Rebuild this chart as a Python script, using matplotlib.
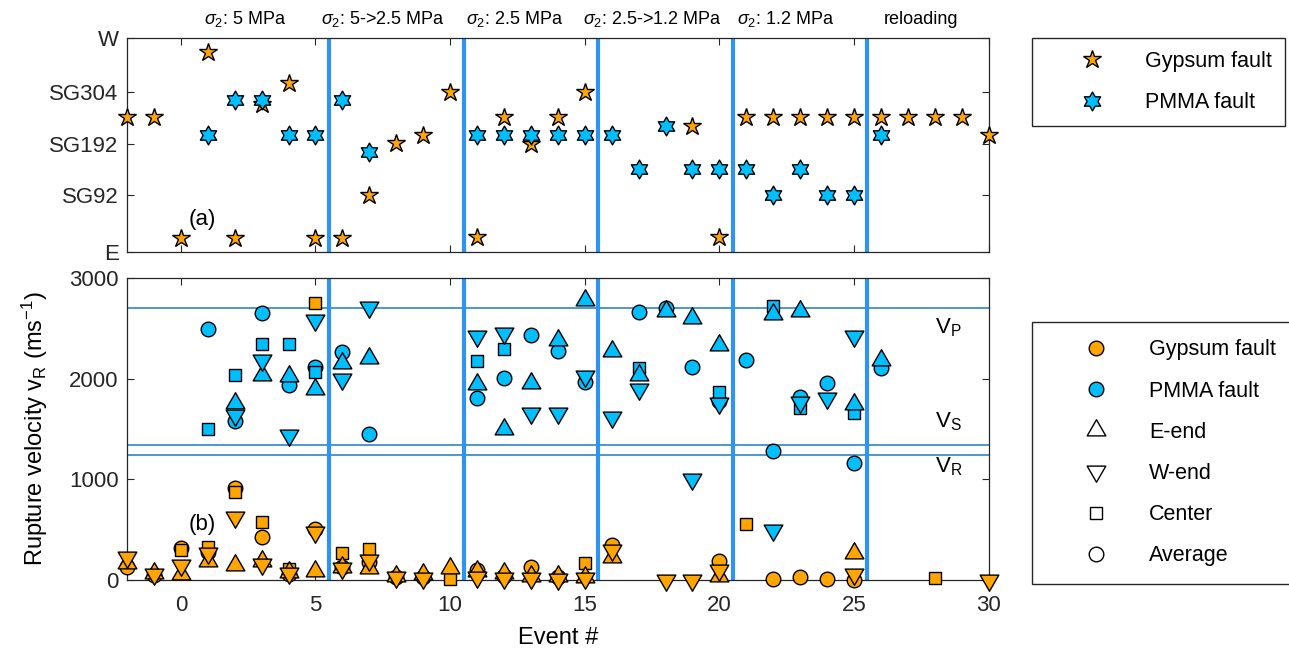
import numpy as np
import matplotlib.pyplot as plt
from matplotlib.path import Path
from matplotlib.lines import Line2D

plt.rcParams['font.family'] = ['Liberation Sans', 'DejaVu Sans']
plt.rcParams['mathtext.fontset'] = 'custom'
plt.rcParams['mathtext.rm'] = 'Liberation Sans'
plt.rcParams['mathtext.it'] = 'Liberation Sans:italic'
plt.rcParams['mathtext.sf'] = 'Liberation Sans'

# ---- (a) nucleation location along the fault (mm from E end) ----
gyp_loc_x = [-2, -1, 0, 1, 2, 3, 4, 5, 6, 7, 8, 9, 10, 11, 12, 13, 14, 15,
             19, 20, 21, 22, 23, 24, 25, 26, 27, 28, 29, 30]
gyp_loc_y = [252, 252, 26, 374, 26, 277, 316, 26, 26, 107, 204, 219, 299, 28,
             252, 202, 252, 299, 236, 28, 252, 252, 252, 252, 252, 252, 252,
             252, 252, 219]
pmma_loc_x = [1, 2, 3, 4, 5, 6, 7, 11, 12, 13, 14, 15, 16, 17, 18, 19, 20,
              21, 22, 23, 24, 25, 26]
pmma_loc_y = [219, 284, 284, 219, 219, 284, 187, 219, 219, 219, 219, 219, 219,
              155, 236, 155, 155, 155, 107, 155, 107, 107, 219]
loc_ticks = [0, 107, 202, 299, 400]
loc_labels = ['E', 'SG92', 'SG192', 'SG304', 'W']

# ---- (b) rupture velocities (m/s) ----
gyp_avg_x = [-2, -1, 0, 1, 2, 3, 4, 5, 6, 7, 8, 9, 11, 12, 13, 14, 16, 20,
             22, 23, 24, 25]
gyp_avg_y = [130, 45, 318, 275, 910, 425, 60, 505, 130, 180, 30, 30, 100, 40,
             130, 30, 350, 185, 7, 26, 7, 0]
gyp_cen_x = [0, 1, 2, 3, 4, 5, 6, 7, 10, 15, 21, 28]
gyp_cen_y = [300, 330, 870, 575, 110, 2750, 265, 310, 10, 172, 556, 17]
gyp_e_x = [-2, -1, 0, 1, 2, 3, 4, 5, 6, 7, 8, 9, 10, 11, 12, 13, 14, 15, 16,
           20, 25]
gyp_e_y = [170, 70, 60, 185, 145, 190, 80, 93, 130, 120, 40, 60, 115, 90, 73,
           40, 40, 33, 225, 40, 270]
gyp_w_x = [-2, -1, 0, 1, 2, 3, 4, 5, 6, 7, 8, 9, 11, 12, 13, 14, 15, 16, 18,
           19, 20, 25, 30]
gyp_w_y = [230, 55, 145, 265, 625, 160, 66, 475, 120, 200, 26, 20, 33, 17, 17,
           7, 17, 295, 0, 0, 100, 60, 0]

pmma_avg_x = [1, 2, 3, 4, 5, 6, 7, 11, 12, 13, 14, 15, 17, 18, 19, 20, 21, 22,
              23, 24, 25, 26]
pmma_avg_y = [2490, 1575, 2650, 1940, 2120, 2265, 1450, 1805, 2010, 2435, 2275,
              1970, 2665, 2700, 2120, 1780, 2190, 1280, 1820, 1955, 1165, 2110]
pmma_cen_x = [1, 2, 3, 4, 5, 11, 12, 17, 20, 22, 23, 25]
pmma_cen_y = [1500, 2035, 2345, 2345, 2070, 2180, 2295, 2110, 1870, 2720, 1705,
              1655]
pmma_e_x = [2, 3, 4, 5, 6, 7, 11, 12, 13, 14, 15, 16, 17, 18, 19, 20, 22, 23,
            25, 26]
pmma_e_y = [1755, 2035, 2025, 1895, 2160, 2210, 1945, 1505, 1955, 2385, 2780,
            2275, 2035, 2670, 2600, 2335, 2640, 2675, 1750, 2185]
pmma_w_x = [2, 3, 4, 5, 6, 7, 11, 12, 13, 14, 15, 16, 17, 19, 20, 22, 23, 24,
            25]
pmma_w_y = [1640, 2185, 1440, 2580, 2000, 2715, 2425, 2450, 1660, 1660, 2025,
            1615, 1895, 1000, 1755, 500, 1770, 1805, 2420]

# wave speeds of PMMA
v_p, v_s, v_r = 2700, 1345, 1245

# normal stress stages
stage_bounds = [5.5, 10.5, 15.5, 20.5, 25.5]
stage_x = [2.4, 7.5, 12.4, 17.5, 22.45, 27.5]
stage_txt = [r'$\sigma_2$: 5 MPa', r'$\sigma_2$: 5->2.5 MPa',
             r'$\sigma_2$: 2.5 MPa', r'$\sigma_2$: 2.5->1.2 MPa',
             r'$\sigma_2$: 1.2 MPa', 'reloading']

ORANGE = '#FFA500'
CYAN = '#00BFFF'
BOUND = '#2F93F2'
WAVE = '#2E86C8'
AX = '#262626'

# marker shapes
hexagram = Path.unit_regular_star(6, innerCircle=1 / np.sqrt(3))
tri_up = Path([(0, 1), (-0.866, -0.5), (0.866, -0.5), (0, 1)],
              [Path.MOVETO, Path.LINETO, Path.LINETO, Path.CLOSEPOLY])
tri_dn = Path([(0, -1), (-0.866, 0.5), (0.866, 0.5), (0, -1)],
              [Path.MOVETO, Path.LINETO, Path.LINETO, Path.CLOSEPOLY])

def style(ax):
    ax.set_xlim(-2, 30)
    ax.set_xticks(range(0, 31, 5))
    ax.tick_params(direction='in', top=True, right=True, length=5,
                   width=0.8, colors=AX, labelsize=16)
    ax.tick_params(axis='x', pad=11)
    ax.tick_params(axis='y', pad=6)
    for s in ax.spines.values():
        s.set_color(AX)
        s.set_linewidth(0.9)
    for b in stage_bounds:
        ax.axvline(b, color=BOUND, lw=3, zorder=1.5)

fig = plt.figure(figsize=(12.89, 6.56), dpi=100)
ax1 = fig.add_axes([0.0985, 0.616, 0.6685, 0.326])
ax2 = fig.add_axes([0.0985, 0.116, 0.6685, 0.460])

# top panel
style(ax1)
ax1.set_ylim(0, 400)
ax1.set_yticks(loc_ticks)
ax1.set_yticklabels(loc_labels)
ax1.set_xticklabels([])
mk = dict(linestyle='none', mec='k', mew=1.0, clip_on=False, zorder=3)
ax1.plot(gyp_loc_x, gyp_loc_y, marker='*', ms=13.5, mfc=ORANGE, **mk)
ax1.plot(pmma_loc_x, pmma_loc_y, marker=hexagram, ms=13.5, mfc=CYAN, **mk)
ax1.text(0.8, 60, '(a)', fontsize=16, ha='center', va='center')
for x, t in zip(stage_x, stage_txt):
    ax1.annotate(t, (x, 1.065), xycoords=('data', 'axes fraction'),
                 ha='center', va='baseline', fontsize=13)

# bottom panel
style(ax2)
ax2.set_ylim(0, 3000)
ax2.set_yticks([0, 1000, 2000, 3000])
for v in (v_p, v_s, v_r):
    ax2.axhline(v, color=WAVE, lw=1.2, zorder=1.2)
for c, series in ((ORANGE, [(gyp_avg_x, gyp_avg_y), (gyp_cen_x, gyp_cen_y),
                            (gyp_e_x, gyp_e_y), (gyp_w_x, gyp_w_y)]),
                  (CYAN, [(pmma_avg_x, pmma_avg_y), (pmma_cen_x, pmma_cen_y),
                          (pmma_e_x, pmma_e_y), (pmma_w_x, pmma_w_y)])):
    for (xs, ys), m, s in zip(series, ['o', 's', tri_up, tri_dn],
                              [10.5, 9.2, 15.5, 15.5]):
        ax2.plot(xs, ys, marker=m, ms=s, mfc=c, **mk)

ax2.text(0.8, 546, '(b)', fontsize=16, ha='center', va='center')
ax2.text(28.0, 2512, r'V$_\mathrm{P}$', fontsize=16, va='center')
ax2.text(28.0, 1569, r'V$_\mathrm{S}$', fontsize=16, va='center')
ax2.text(28.0, 1122, r'V$_\mathrm{R}$', fontsize=16, va='center')
ax2.set_xlabel('Event #', fontsize=17, labelpad=8)
ax2.set_ylabel(r'Rupture velocity v$_\mathrm{R}$ (ms$^{-1}$)', fontsize=17,
               labelpad=14)

# legends
leg_kw = dict(loc='upper left', fontsize=15.5, frameon=True, fancybox=False,
              borderaxespad=0, handlelength=4.37, handletextpad=0.28,
              labelspacing=0.94, edgecolor=AX, framealpha=1)
h1 = [Line2D([], [], ls='none', marker='*', ms=13.5, mfc=ORANGE, mec='k'),
      Line2D([], [], ls='none', marker=hexagram, ms=13.5, mfc=CYAN, mec='k')]
fig.legend(h1, ['Gypsum fault', 'PMMA fault'], borderpad=0.6,
           bbox_to_anchor=(0.8006, 0.942), **leg_kw)
h2 = [Line2D([], [], ls='none', marker='o', ms=10.5, mfc=ORANGE, mec='k'),
      Line2D([], [], ls='none', marker='o', ms=10.5, mfc=CYAN, mec='k'),
      Line2D([], [], ls='none', marker=tri_up, ms=15.5, mfc='w', mec='k'),
      Line2D([], [], ls='none', marker=tri_dn, ms=15.5, mfc='w', mec='k'),
      Line2D([], [], ls='none', marker='s', ms=9.2, mfc='w', mec='k'),
      Line2D([], [], ls='none', marker='o', ms=10.5, mfc='w', mec='k')]
fig.legend(h2, ['Gypsum fault', 'PMMA fault', 'E-end', 'W-end', 'Center',
                'Average'], borderpad=0.8,
           bbox_to_anchor=(0.8006, 0.509), **leg_kw)

fig.savefig('out.png', dpi=100)
